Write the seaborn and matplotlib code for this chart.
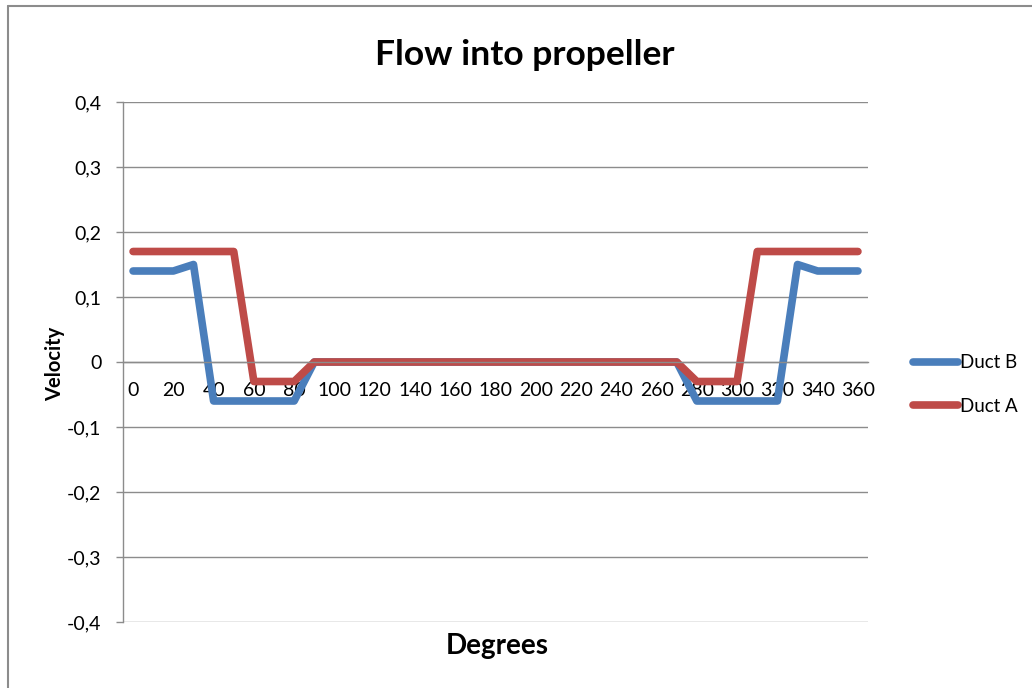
import matplotlib
matplotlib.use("Agg")
import matplotlib.pyplot as plt
import seaborn as sns
import pandas as pd
import numpy as np
from matplotlib.lines import Line2D
from matplotlib.ticker import FixedLocator, FuncFormatter

degrees = list(range(0, 361, 10))
duct_b = [0.14, 0.14, 0.14, 0.15, -0.06, -0.06, -0.06, -0.06, -0.06, 0.0,
          0.0, 0.0, 0.0, 0.0, 0.0, 0.0, 0.0, 0.0, 0.0, 0.0,
          0.0, 0.0, 0.0, 0.0, 0.0, 0.0, 0.0, 0.0, -0.06, -0.06,
          -0.06, -0.06, -0.06, 0.15, 0.14, 0.14, 0.14]
duct_a = [0.17, 0.17, 0.17, 0.17, 0.17, 0.17, -0.03, -0.03, -0.03, 0.0,
          0.0, 0.0, 0.0, 0.0, 0.0, 0.0, 0.0, 0.0, 0.0, 0.0,
          0.0, 0.0, 0.0, 0.0, 0.0, 0.0, 0.0, 0.0, -0.03, -0.03,
          -0.03, 0.17, 0.17, 0.17, 0.17, 0.17, 0.17]
series_names = ["Duct B", "Duct A"]
colors = {"Duct B": "#4A7EBB", "Duct A": "#BE4B48"}
y_ticks = [-0.4, -0.3, -0.2, -0.1, 0.0, 0.1, 0.2, 0.3, 0.4]
x_labels = list(range(0, 361, 20))

df = pd.concat([
    pd.DataFrame({"Degrees": degrees, "Velocity": duct_b, "series": "Duct B"}),
    pd.DataFrame({"Degrees": degrees, "Velocity": duct_a, "series": "Duct A"}),
])

sns.set_style("white")
plt.rcParams["font.family"] = ["Lato", "DejaVu Sans"]
plt.rcParams["text.color"] = "#000000"

fig = plt.figure(figsize=(10.32, 6.88), dpi=100)
ax = fig.add_axes([123/1032, 1 - 622/688, (868-123)/1032, (622-102)/688])

sns.lineplot(data=df, x="Degrees", y="Velocity", hue="series",
             hue_order=series_names, palette=colors, linewidth=5.5,
             ax=ax, legend=True, solid_capstyle="round", solid_joinstyle="round")

ax.set_xlim(-5, 365)
ax.set_ylim(-0.4, 0.4)
grid_c = "#8C8C8C"
ax.set_yticks(y_ticks)
ax.yaxis.set_major_formatter(FuncFormatter(lambda v, p: "0" if abs(v) < 1e-9 else f"{v:.1f}".replace(".", ",")))
ax.yaxis.grid(True, color=grid_c, linewidth=1.0)
ax.set_axisbelow(True)

for s in ["top", "right"]:
    ax.spines[s].set_visible(False)
ax.spines["left"].set_color(grid_c)
ax.spines["left"].set_linewidth(1.0)
ax.spines["bottom"].set_position(("data", 0))
ax.spines["bottom"].set_color(grid_c)
ax.spines["bottom"].set_linewidth(1.0)

ax.set_xticks(x_labels)
ax.set_xticklabels([str(v) for v in x_labels])
ax.xaxis.set_minor_locator(FixedLocator(np.arange(-5, 366, 10)))
ax.tick_params(axis="x", which="major", length=0, pad=14.5, labelsize=14, labelcolor="#000000")
ax.tick_params(axis="x", which="minor", length=5, width=1.0, color=grid_c, direction="out")
ax.tick_params(axis="y", which="major", length=5, width=1.0, color=grid_c, pad=10.5,
               labelsize=14, labelcolor="#000000", direction="out", left=True)

ax.set_xlabel("")
ax.set_ylabel("")
fig.text(497/1032, 1 - 646/688, "Degrees", ha="center", va="center",
         fontsize=20, fontweight="bold", color="#000000")
fig.text(55/1032, 1 - 364/688, "Velocity", ha="center", va="center",
         fontsize=14.5, fontweight="bold", rotation=90, color="#000000")
fig.text(525/1032, 1 - 55/688, "Flow into propeller", ha="center", va="center",
         fontsize=25.5, fontweight="bold", color="#000000")

handles = [Line2D([0], [0], color=colors[n], linewidth=5.5, solid_capstyle="round") for n in series_names]
leg = ax.legend(handles, series_names, loc="center left",
                bbox_to_anchor=(905/1032, 1 - 384.5/688), bbox_transform=fig.transFigure,
                frameon=False, fontsize=13.5, handlelength=2.4, handletextpad=0.15,
                labelspacing=1.4, borderaxespad=0)
for t in leg.get_texts():
    t.set_color("#000000")

fig.add_artist(Line2D([8/1032, 1], [1 - 6/688, 1 - 6/688], transform=fig.transFigure,
                      color="#8C8C8C", linewidth=1.5))
fig.add_artist(Line2D([8/1032, 8/1032], [0, 1 - 6/688], transform=fig.transFigure,
                      color="#8C8C8C", linewidth=1.5))

fig.savefig("out.png", dpi=100)
